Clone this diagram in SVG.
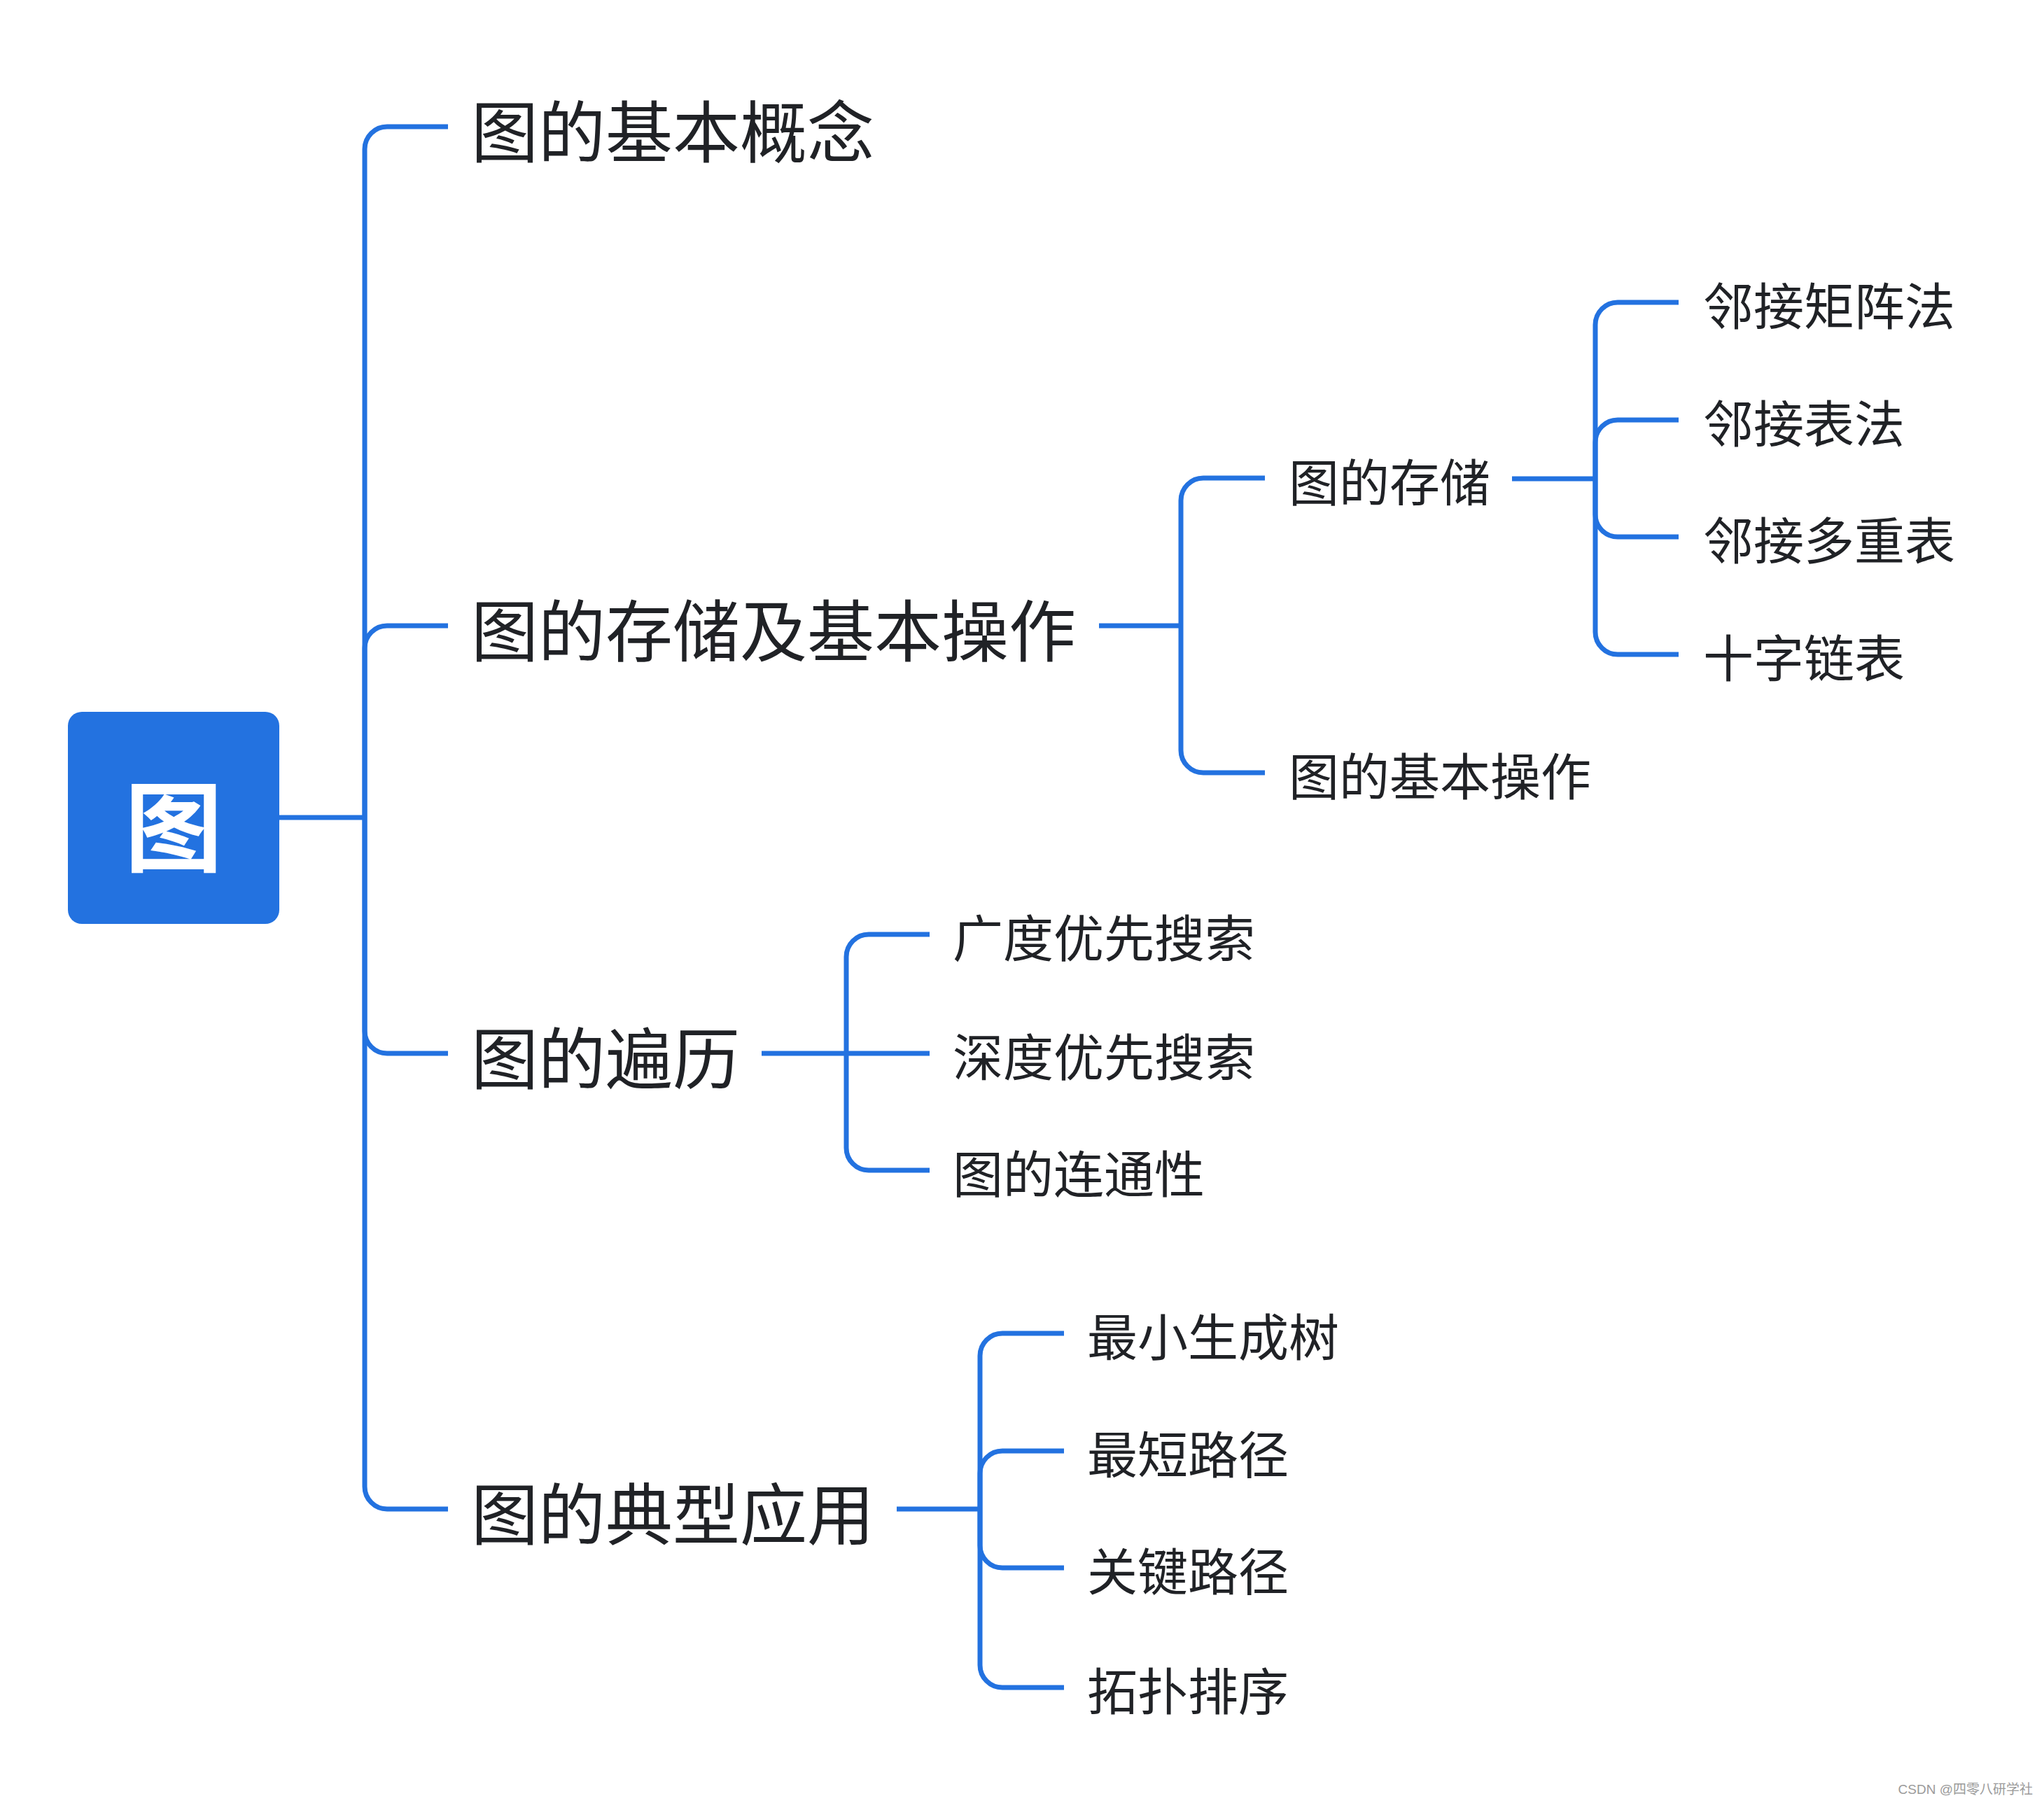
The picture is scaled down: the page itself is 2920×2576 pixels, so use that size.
<svg xmlns="http://www.w3.org/2000/svg" width="2920" height="2576" viewBox="0 0 2920 2576">
<style>
.c{fill:none;stroke:#2372e0;stroke-width:7;}
.t{font-family:"Noto Sans CJK SC","Noto Sans",sans-serif;fill:#202226;}
.l1{font-size:96px;}
.l2{font-size:72px;}
.root{font-family:"Noto Sans CJK SC","Noto Sans",sans-serif;font-size:140px;font-weight:bold;fill:#ffffff;}
.wm{font-family:"Liberation Sans","Noto Sans CJK SC",sans-serif;font-size:19px;fill:#9a9a9a;}
</style>
<rect width="2920" height="2576" fill="#ffffff"/>
<g id="connectors">
<path class="c" d="M399 1168 H521"/>
<path class="c" d="M521 1168 V213 A32 32 0 0 1 553 181 H640"/>
<path class="c" d="M521 1168 V926 A32 32 0 0 1 553 894 H640"/>
<path class="c" d="M521 1168 V1473 A32 32 0 0 0 553 1505 H640"/>
<path class="c" d="M521 1168 V2124 A32 32 0 0 0 553 2156 H640"/>
<path class="c" d="M1570 894 H1687"/>
<path class="c" d="M1687 894 V715 A32 32 0 0 1 1719 683 H1807"/>
<path class="c" d="M1687 894 V1072 A32 32 0 0 0 1719 1104 H1807"/>
<path class="c" d="M2160 684 H2279"/>
<path class="c" d="M2279 684 V464 A32 32 0 0 1 2311 432 H2398"/>
<path class="c" d="M2279 684 V632 A32 32 0 0 1 2311 600 H2398"/>
<path class="c" d="M2279 684 V735 A32 32 0 0 0 2311 767 H2398"/>
<path class="c" d="M2279 684 V903 A32 32 0 0 0 2311 935 H2398"/>
<path class="c" d="M1088 1505 H1328"/>
<path class="c" d="M1209 1505 V1367 A32 32 0 0 1 1241 1335 H1328"/>
<path class="c" d="M1209 1505 V1640 A32 32 0 0 0 1241 1672 H1328"/>
<path class="c" d="M1281 2156 H1400"/>
<path class="c" d="M1400 2156 V1937 A32 32 0 0 1 1432 1905 H1520"/>
<path class="c" d="M1400 2156 V2105 A32 32 0 0 1 1432 2073 H1520"/>
<path class="c" d="M1400 2156 V2208 A32 32 0 0 0 1432 2240 H1520"/>
<path class="c" d="M1400 2156 V2379 A32 32 0 0 0 1432 2411 H1520"/>
</g>
<g id="root">
<rect x="97" y="1017" width="302" height="303" rx="20" fill="#2372e0"/>
<text class="root" x="248" y="1234" text-anchor="middle">图</text>
</g>
<g id="n-concept"><text class="t l1" x="673" y="224">图的基本概念</text></g>
<g id="n-storage-ops"><text class="t l1" x="673" y="937">图的存储及基本操作</text></g>
<g id="n-traversal"><text class="t l1" x="673" y="1548">图的遍历</text></g>
<g id="n-apps"><text class="t l1" x="673" y="2199">图的典型应用</text></g>
<g id="n-storage"><text class="t l2" x="1841" y="716">图的存储</text></g>
<g id="n-basic-ops"><text class="t l2" x="1841" y="1136">图的基本操作</text></g>
<g id="n-matrix"><text class="t l2" x="2433" y="464">邻接矩阵法</text></g>
<g id="n-adjlist"><text class="t l2" x="2433" y="632">邻接表法</text></g>
<g id="n-multilist"><text class="t l2" x="2433" y="799">邻接多重表</text></g>
<g id="n-orthogonal"><text class="t l2" x="2433" y="967">十字链表</text></g>
<g id="n-bfs"><text class="t l2" x="1361" y="1367">广度优先搜索</text></g>
<g id="n-dfs"><text class="t l2" x="1361" y="1537">深度优先搜索</text></g>
<g id="n-conn"><text class="t l2" x="1361" y="1704">图的连通性</text></g>
<g id="n-mst"><text class="t l2" x="1553" y="1937">最小生成树</text></g>
<g id="n-shortest"><text class="t l2" x="1553" y="2105">最短路径</text></g>
<g id="n-critical"><text class="t l2" x="1553" y="2272">关键路径</text></g>
<g id="n-topo"><text class="t l2" x="1553" y="2443">拓扑排序</text></g>
<text class="wm" x="2904" y="2563" text-anchor="end">CSDN @四零八研学社</text>
</svg>
